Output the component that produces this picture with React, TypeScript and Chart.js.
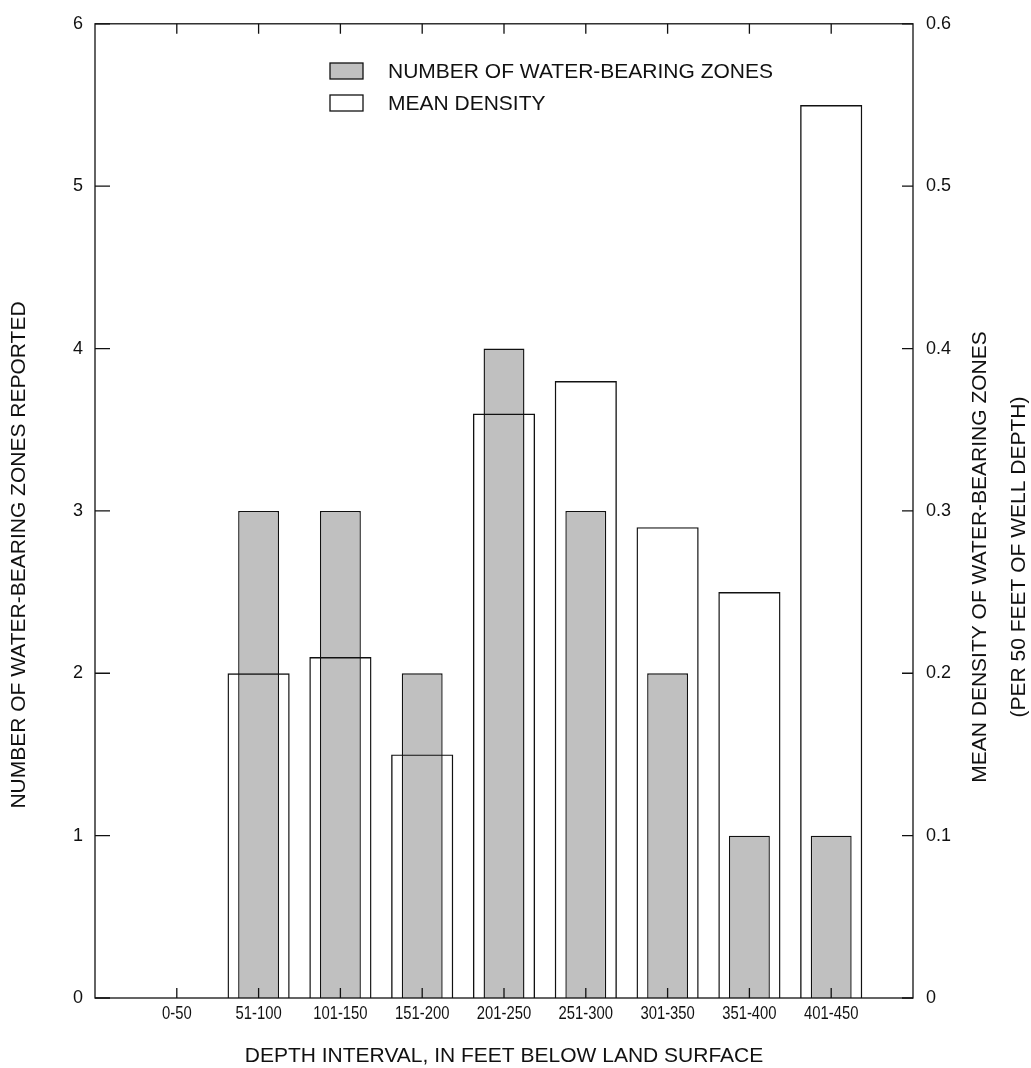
import React, { useEffect, useRef } from 'react';
import { Chart, registerables } from 'chart.js';

Chart.register(...registerables);

const categories = ['0-50', '51-100', '101-150', '151-200', '201-250', '251-300', '301-350', '351-400', '401-450'];
const zoneCounts = [0, 3, 3, 2, 4, 3, 2, 1, 1];
const meanDensity = [0, 0.2, 0.21, 0.15, 0.36, 0.38, 0.29, 0.25, 0.55];
const leftTicks = [0, 1, 2, 3, 4, 5, 6];
const rightTicks = [0, 0.1, 0.2, 0.3, 0.4, 0.5, 0.6];
const seriesLabels = ['NUMBER OF WATER-BEARING ZONES', 'MEAN DENSITY'];
const xTitle = 'DEPTH INTERVAL, IN FEET BELOW LAND SURFACE';
const yTitle = 'NUMBER OF WATER-BEARING ZONES REPORTED';
const y2Title = ['MEAN DENSITY OF WATER-BEARING ZONES', '(PER 50 FEET OF WELL DEPTH)'];

const SANS = 'Liberation Sans, Arial, Helvetica, sans-serif';
const GRAY = '#c0c0c0';
const INK = '#111';

const framePlugin = {
  id: 'frameAndText',
  afterDatasetsDraw(chart: any) {
    const { ctx, chartArea: a, scales } = chart;
    ctx.save();
    ctx.strokeStyle = INK;
    ctx.lineWidth = 1.3;
    ctx.strokeRect(a.left, a.top, a.right - a.left, a.bottom - a.top);
    ctx.beginPath();
    for (const v of leftTicks) {
      const y = scales.y.getPixelForValue(v);
      ctx.moveTo(a.left, y);
      ctx.lineTo(a.left + 15, y);
    }
    for (const v of rightTicks) {
      const y = scales.y2.getPixelForValue(v);
      ctx.moveTo(a.right, y);
      ctx.lineTo(a.right - 11, y);
    }
    for (let i = 1; i <= categories.length; i++) {
      const x = scales.x.getPixelForValue(i);
      ctx.moveTo(x, a.top);
      ctx.lineTo(x, a.top + 10);
      ctx.moveTo(x, a.bottom);
      ctx.lineTo(x, a.bottom - 10);
    }
    ctx.stroke();

    // narrow category labels (Arial Narrow look: horizontally condensed)
    ctx.fillStyle = INK;
    ctx.font = `19px ${SANS}`;
    ctx.textAlign = 'center';
    ctx.textBaseline = 'middle';
    categories.forEach((c, i) => {
      const x = scales.x.getPixelForValue(i + 1);
      ctx.save();
      ctx.translate(x, a.bottom + 16);
      ctx.scale(0.78, 1);
      ctx.fillText(c, 0, 0);
      ctx.restore();
    });

    // legend
    const ds = chart.data.datasets;
    ctx.font = `21px ${SANS}`;
    ctx.textBaseline = 'middle';
    ctx.textAlign = 'left';
    const rows = [71, 103];
    ds.forEach((d: any, i: number) => {
      const cy = rows[i];
      const bx = a.left + 235;
      ctx.fillStyle = i === 0 ? GRAY : '#fff';
      ctx.fillRect(bx, cy - 8, 33, 16);
      ctx.lineWidth = 1.3;
      ctx.strokeStyle = INK;
      ctx.strokeRect(bx, cy - 8, 33, 16);
      ctx.fillStyle = INK;
      ctx.fillText(d.label, bx + 58, cy + 1);
    });

    // axis titles
    ctx.fillStyle = INK;
    ctx.textAlign = 'center';
    ctx.font = `21px ${SANS}`;
    ctx.fillText(xTitle, (a.left + a.right) / 2, 1056);
    ctx.save();
    ctx.translate(19, 555);
    ctx.rotate(-Math.PI / 2);
    ctx.fillText(yTitle, 0, 0);
    ctx.restore();
    ctx.save();
    ctx.translate(980, 557);
    ctx.rotate(-Math.PI / 2);
    ctx.fillText(y2Title[0], 0, 0);
    ctx.fillText(y2Title[1], 0, 39);
    ctx.restore();
    ctx.restore();
  },
};

export default function App() {
  const ref = useRef<HTMLCanvasElement | null>(null);
  useEffect(() => {
    const canvas = ref.current;
    if (!canvas) return;
    const chart = new Chart(canvas, {
      type: 'bar',
      data: {
        labels: ['', ...categories, ''],
        datasets: [
          {
            label: seriesLabels[0],
            data: [null, ...zoneCounts, null],
            yAxisID: 'y',
            backgroundColor: GRAY,
            borderColor: INK,
            borderWidth: 1.4,
            grouped: false,
            barPercentage: 0.5,
            categoryPercentage: 1,
            order: 2,
          },
          {
            label: seriesLabels[1],
            data: [null, ...meanDensity, null],
            yAxisID: 'y2',
            backgroundColor: 'rgba(255,255,255,0)',
            borderColor: INK,
            borderWidth: 1.4,
            grouped: false,
            barPercentage: 0.76,
            categoryPercentage: 1,
            order: 1,
          },
        ],
      },
      options: {
        animation: false,
        responsive: false,
        maintainAspectRatio: false,
        layout: { padding: { top: 16, left: 0, right: 0, bottom: 0 } },
        plugins: {
          legend: { display: false },
          tooltip: { enabled: false },
        },
        scales: {
          x: {
            type: 'category',
            offset: false,
            grid: { display: false, drawTicks: false },
            border: { display: false },
            ticks: { display: false, autoSkip: false },
            afterFit: (s: any) => {
              s.height = 70;
            },
          },
          y: {
            position: 'left',
            min: 0,
            max: 6,
            grid: { display: false, drawTicks: false },
            border: { display: false },
            ticks: {
              stepSize: 1,
              padding: 12,
              color: INK,
              font: { family: SANS, size: 18 },
            },
            afterFit: (s: any) => {
              s.width = 95;
            },
          },
          y2: {
            position: 'right',
            min: 0,
            max: 0.6,
            grid: { display: false, drawTicks: false },
            border: { display: false },
            ticks: {
              stepSize: 0.1,
              padding: 13,
              color: INK,
              font: { family: SANS, size: 18 },
              callback: (v: any) => (Number(v) === 0 ? '0' : Number(v).toFixed(1)),
            },
            afterFit: (s: any) => {
              s.width = 118;
            },
          },
        },
      },
      plugins: [framePlugin],
    } as any);
    return () => chart.destroy();
  }, []);
  return (
    <div style={{ position: 'absolute', left: 0, top: 0, width: 1031, height: 1068, background: '#fff' }}>
      <canvas ref={ref} width={1031} height={1068} />
    </div>
  );
}
